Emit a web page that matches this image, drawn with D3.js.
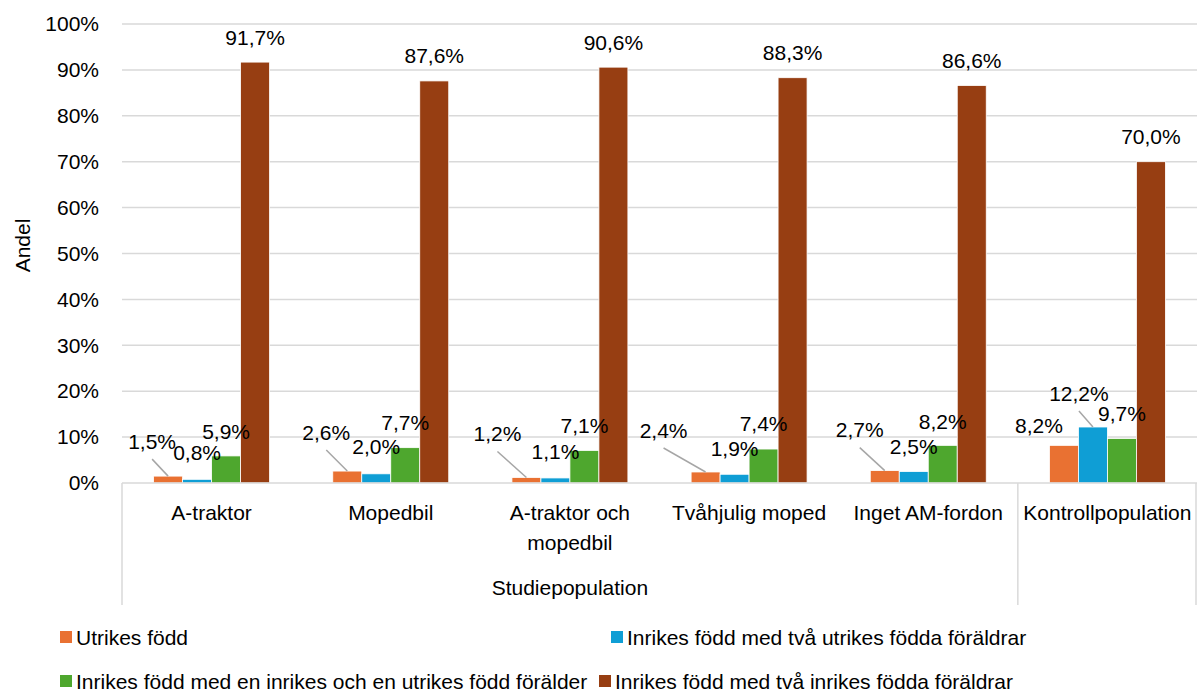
<!DOCTYPE html>
<html>
<head>
<meta charset="utf-8">
<script src="https://cdn.jsdelivr.net/npm/d3@7"></script>
<style>
  html, body { margin: 0; padding: 0; background: #fff; }
  svg { display: block; font-family: "Liberation Sans", Arial, sans-serif; }
</style>
</head>
<body>
<svg id="chart" width="1197" height="693"></svg>
<script>
// ---------- data ----------
const categories = ["A-traktor", "Mopedbil", "A-traktor och mopedbil", "Tvåhjulig moped", "Inget AM-fordon", "Kontrollpopulation"];
const groupLabels = ["Studiepopulation"];           // outer level label for first 5 categories
const groupSizes = [5, 1];
const seriesNames = [
  "Utrikes född",
  "Inrikes född med två utrikes födda föräldrar",
  "Inrikes född med en inrikes och en utrikes född förälder",
  "Inrikes född med två inrikes födda föräldrar"
];
const utrikes      = [1.5, 2.6, 1.2, 2.4, 2.7, 8.2];
const tvaUtrikes   = [0.8, 2.0, 1.1, 1.9, 2.5, 12.2];
const enInrikes    = [5.9, 7.7, 7.1, 7.4, 8.2, 9.7];
const tvaInrikes   = [91.7, 87.6, 90.6, 88.3, 86.6, 70.0];
const yTicks = [0, 10, 20, 30, 40, 50, 60, 70, 80, 90, 100];

// ---------- style / layout ----------
const colors = ["#E97132", "#0F9ED5", "#4EA72E", "#973E12"];
const seriesValues = [utrikes, tvaUtrikes, enInrikes, tvaInrikes];
// manual label displacement (series x category) in px, relative to default "outside end"
const labelShift = [
  [[-16, -10], [-21, -14], [-29, -19], [-42, -17], [-25, -16], [-25, 5]],
  [[0, -2], [0, -2], [0, -2], [0, -1], [0, 0], [-14, -9]],
  [[0, 1], [0, 0], [0, 0], [0, -1], [0, 1], [0, 0]],
  [[0, 0], [0, 0], [0, 0], [0, 0], [0, 0], [0, 0]]
];
const leader = [
  [true, true, true, true, true, false],
  [false, false, false, false, false, true],
  [false, false, false, false, false, false],
  [false, false, false, false, false, false]
];

const svg = d3.select("#chart");
const mLeft = 122, mRight = 1197, mTop = 24, mBottom = 483;
const FS = 21;

const x0 = d3.scaleBand().domain(categories).range([mLeft, mRight]).paddingInner(0).paddingOuter(0);
const x1 = d3.scaleBand().domain(d3.range(4)).range([0, x0.bandwidth()]).paddingInner(0).paddingOuter(1.09);
const y = d3.scaleLinear().domain([0, 100]).range([mBottom, mTop]);

// gridlines
svg.append("g").selectAll("line").data(yTicks.filter(d => d > 0)).join("line")
  .attr("x1", mLeft).attr("x2", mRight)
  .attr("y1", d => y(d)).attr("y2", d => y(d))
  .attr("stroke", "#d9d9d9").attr("stroke-width", 1.5);

// y axis labels
const yAxis = d3.axisLeft(y).tickValues(yTicks).tickFormat(d => d + "%").tickSize(0).tickPadding(23);
const ya = svg.append("g").attr("transform", `translate(${mLeft},0)`).call(yAxis);
ya.select(".domain").remove();
ya.selectAll("text").attr("font-size", FS).attr("fill", "#000").attr("font-family", "Liberation Sans, Arial, sans-serif");

// y title
svg.append("text").attr("transform", `translate(30,${(mTop + mBottom) / 2 - 8}) rotate(-90)`)
  .attr("text-anchor", "middle").attr("font-size", FS).attr("fill", "#000").text("Andel");

// bars
const fmt = v => v.toFixed(1).replace(".", ",") + "%";
seriesValues.forEach((vals, s) => {
  const g = svg.append("g");
  g.selectAll("rect").data(vals).join("rect")
    .attr("x", (d, i) => x0(categories[i]) + x1(s))
    .attr("width", x1.bandwidth())
    .attr("y", d => y(d))
    .attr("height", d => y(0) - y(d))
    .attr("fill", colors[s])
    .attr("stroke", "#fff").attr("stroke-width", 0.8);
});

// x axis baseline and category separators
svg.append("line").attr("x1", mLeft).attr("x2", mRight).attr("y1", mBottom).attr("y2", mBottom)
  .attr("stroke", "#d9d9d9").attr("stroke-width", 1.5);
let acc = 0;
const sepIdx = [0];
groupSizes.forEach(n => { acc += n; sepIdx.push(acc); });
sepIdx.forEach(k => {
  const xx = k < categories.length ? x0(categories[k]) : mRight - 1;
  svg.append("line").attr("x1", xx).attr("x2", xx).attr("y1", mBottom).attr("y2", 605)
    .attr("stroke", "#d9d9d9").attr("stroke-width", 1.5);
});

// category labels (wrapped)
categories.forEach(c => {
  const cxl = x0(c) + x0.bandwidth() / 2;
  const t = svg.append("text").attr("x", cxl).attr("y", 520)
    .attr("text-anchor", "middle").attr("font-size", FS).attr("fill", "#000");
  const words = c.split(" ");
  let line = [];
  let tspan = t.append("tspan").attr("x", cxl).attr("dy", 0);
  words.forEach(w => {
    line.push(w);
    tspan.text(line.join(" "));
    if (tspan.node().getComputedTextLength() > x0.bandwidth() - 2 && line.length > 1) {
      line.pop();
      tspan.text(line.join(" "));
      line = [w];
      tspan = t.append("tspan").attr("x", cxl).attr("dy", 30).text(w);
    }
  });
});

// group label
let start = 0;
groupLabels.forEach((gl, gi) => {
  const a = x0(categories[start]);
  const b = x0(categories[start + groupSizes[gi] - 1]) + x0.bandwidth();
  svg.append("text").attr("x", (a + b) / 2).attr("y", 595).attr("text-anchor", "middle")
    .attr("font-size", FS).attr("fill", "#000").text(gl);
  start += groupSizes[gi];
});

// data labels + leader lines
seriesValues.forEach((vals, s) => {
  vals.forEach((v, i) => {
    const cx = x0(categories[i]) + x1(s) + x1.bandwidth() / 2;
    const ty = y(v);
    const lx = cx + labelShift[s][i][0];
    const ly = ty - 25 + labelShift[s][i][1];   // label centre
    if (leader[s][i]) {
      svg.append("line").attr("x1", lx).attr("y1", ly + 18).attr("x2", cx).attr("y2", ty)
        .attr("stroke", "#a6a6a6").attr("stroke-width", 1.5);
    }
    svg.append("text").attr("x", lx).attr("y", ly).attr("dy", "0.36em")
      .attr("text-anchor", "middle").attr("font-size", FS).attr("fill", "#000").text(fmt(v));
  });
});

// legend
const legendPos = [[60, 637], [611, 637], [60, 681], [599, 681]];
seriesNames.forEach((n, s) => {
  const [lx, ly] = legendPos[s];
  svg.append("rect").attr("x", lx).attr("y", ly - 6).attr("width", 12).attr("height", 12).attr("fill", colors[s]);
  svg.append("text").attr("x", lx + 16).attr("y", ly).attr("dy", "0.36em")
    .attr("font-size", FS).attr("fill", "#000").text(n);
});
</script>
</body>
</html>
